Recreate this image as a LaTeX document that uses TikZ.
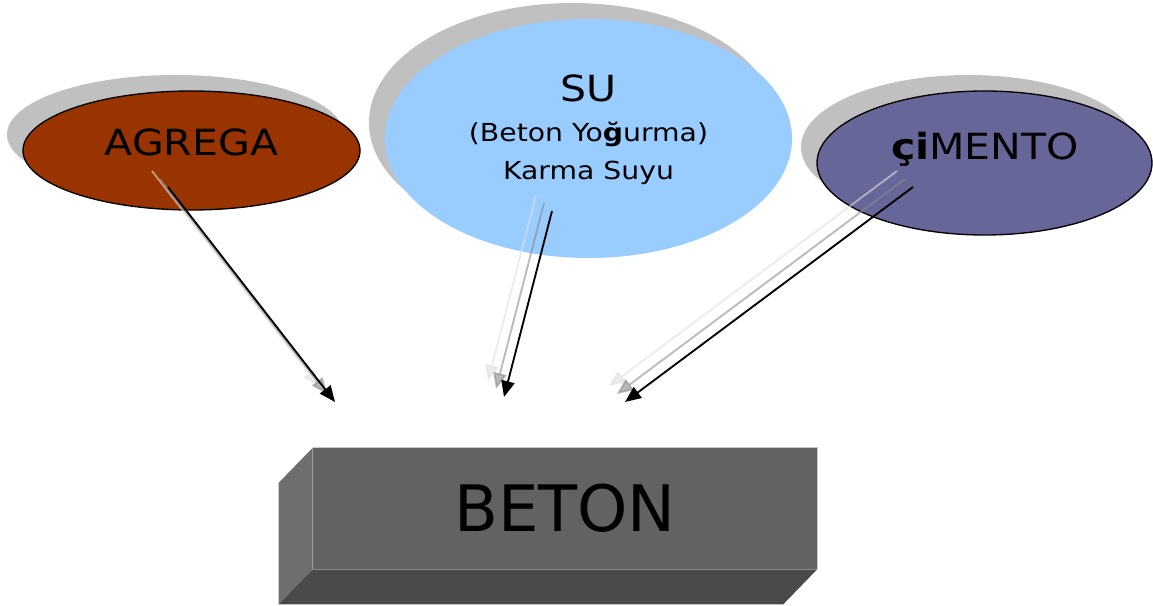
\documentclass[tikz,border=0pt]{standalone}
\usepackage{fontspec}
\setmainfont{DejaVu Sans}
\newfontfamily\widesans{DejaVu Sans}[FakeStretch=1.14]
\usetikzlibrary{shapes.geometric,arrows.meta,calc}

\definecolor{agregabrown}{HTML}{993300}
\definecolor{sublue}{HTML}{99CCFF}
\definecolor{cimentoblue}{HTML}{666699}
\definecolor{dropgray}{HTML}{C0C0C0}
\definecolor{betonfront}{HTML}{626262}
\definecolor{betonside}{HTML}{6E6E6E}
\definecolor{betonbottom}{HTML}{4A4A4A}

\tikzset{
  blob/.style={ellipse, inner sep=0pt},
  dropblob/.style={blob, fill=dropgray},
  blobtext/.style={anchor=base, inner sep=0pt, text=black},
  flow/.style={-{Triangle[length=12pt,width=10pt]}, line width=1.4pt},
  flowmid/.style={flow, draw=black!45, opacity=0.6},
  flowlight/.style={flow, draw=black!12, opacity=0.6},
}

\begin{document}
\begin{tikzpicture}[x=0.75pt,y=-0.75pt]
  \useasboundingbox (0,0) rectangle (1153,606);

  % drop shadows
  \node[dropblob, minimum width=252.75pt, minimum height=89.25pt] (agregaDrop) at (175.5,134.5) {};
  \node[dropblob, minimum width=305.25pt, minimum height=179.25pt] (suDrop) at (572.5,122.5) {};
  \node[dropblob, minimum width=251.25pt, minimum height=108pt] (cimentoDrop) at (968.5,147) {};

  % the three ellipses
  \node[blob, fill=agregabrown, draw=black, line width=1pt,
        minimum width=252.75pt, minimum height=89.25pt] (agrega) at (191.5,150.5) {};
  \node[blob, fill=sublue,
        minimum width=305.25pt, minimum height=179.25pt] (su) at (588.5,138.5) {};
  \node[blob, fill=cimentoblue, draw=black, line width=1pt,
        minimum width=251.25pt, minimum height=108pt] (cimento) at (984.5,163) {};

  \node[blobtext, font=\widesans\fontsize{27}{32}\selectfont] (agregaText) at (191.5,156) {AGREGA};
  \node[blobtext, font=\widesans\fontsize{27}{32}\selectfont] (suText) at (588.5,102) {SU};
  \node[blobtext, font=\widesans\fontsize{18.6}{22}\selectfont] (suNote) at (588.5,142) {(Beton Yo\textbf{ğ}urma)};
  \node[blobtext, font=\widesans\fontsize{18.6}{22}\selectfont] (suName) at (588.5,180) {Karma Suyu};
  \node[blobtext, font=\widesans\fontsize{27}{32}\selectfont] (cimentoText) at (985,160) {{\bfseries çi}MENTO};

  % beton block
  \node[rectangle, fill=betonfront, inner sep=0pt,
        minimum width=378pt, minimum height=90.75pt,
        font=\fontsize{48}{56}\selectfont] (beton) at (565,508.5) {BETON};
  \draw[black!22, line width=0.6pt] (beton.north west) -- (beton.north east) -- (beton.south east);
  \fill[betonside] (beton.north west) -- ++(-34,35) -- ([shift={(-34,35)}]beton.south west)
    -- (beton.south west) -- cycle;
  \fill[betonbottom] (beton.south west) -- (beton.south east) -- ++(-34,35)
    -- ([shift={(-34,35)}]beton.south west) -- cycle;

  % arrow ends
  \coordinate (agregaOut) at ($(agrega)+(-23.5,36.5)$);
  \coordinate (suOut) at ($(su)+(-36.5,72.5)$);
  \coordinate (cimentoOut) at ($(cimento)+(-71.5,24)$);
  \coordinate (agregaIn) at ($(beton)+(-230,-106.5)$);
  \coordinate (suIn) at ($(beton)+(-61,-111.5)$);
  \coordinate (cimentoIn) at ($(beton)+(60,-106.5)$);

  \draw[flowlight] ([shift={(-16,-16)}]agregaOut) -- ([shift={(-16,-16)}]agregaIn);
  \draw[flowmid] ([shift={(-8,-8)}]agregaOut) -- ([shift={(-8,-8)}]agregaIn);
  \draw[flow] (agregaOut) -- (agregaIn);

  \draw[flowlight] ([shift={(-16,-16)}]suOut) -- ([shift={(-16,-16)}]suIn);
  \draw[flowmid] ([shift={(-8,-8)}]suOut) -- ([shift={(-8,-8)}]suIn);
  \draw[flow] (suOut) -- (suIn);

  \draw[flowlight] ([shift={(-16,-16)}]cimentoOut) -- ([shift={(-16,-16)}]cimentoIn);
  \draw[flowmid] ([shift={(-8,-8)}]cimentoOut) -- ([shift={(-8,-8)}]cimentoIn);
  \draw[flow] (cimentoOut) -- (cimentoIn);
\end{tikzpicture}
\end{document}
